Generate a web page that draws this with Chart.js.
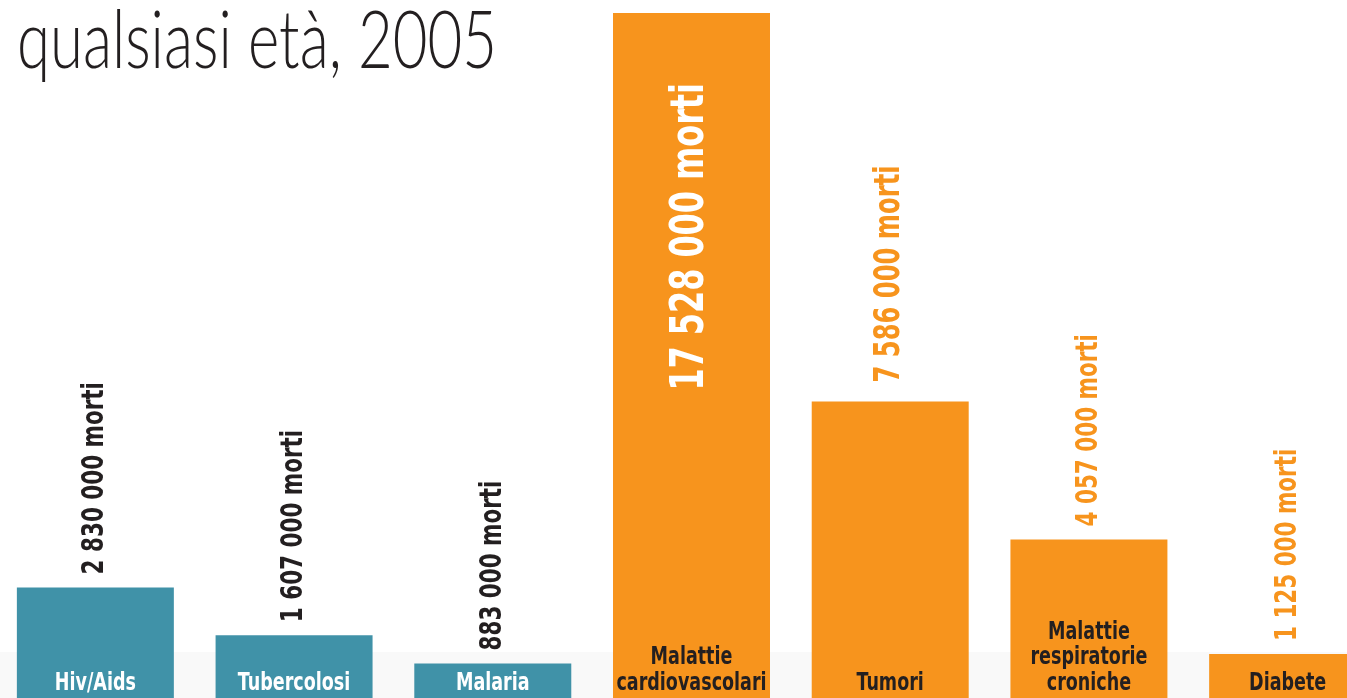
<!DOCTYPE html>
<html lang="it">
<head>
<meta charset="utf-8">
<title>Morti per causa, qualsiasi età, 2005</title>
<script src="https://cdn.jsdelivr.net/npm/chart.js@4/dist/chart.umd.min.js"></script>
<style>
    html, body {
        margin: 0;
        padding: 0;
        width: 1347px;
        height: 698px;
        overflow: hidden;
        background: linear-gradient(to bottom, #ffffff 0, #ffffff 652px, #f9f9f9 652px, #f9f9f9 698px);
    }
    #chartBox {
        position: absolute;
        left: -4px;
        top: 0;
        width: 1391px;
        height: 698px;
    }
    #title {
        position: absolute;
        left: 17px;
        top: -3px;
        font-family: Lato, Roboto, "Liberation Sans", sans-serif;
        font-weight: 300;
        font-size: 80px;
        line-height: 80px;
        color: #231f20;
        white-space: nowrap;
        transform-origin: 0 0;
        z-index: 2;
    }
</style>
</head>
<body>
<div id="chartBox"><canvas id="deathsChart"></canvas></div>
<div id="title">qualsiasi età, 2005</div>
<script>
// data
const categories = [
    ['Hiv/Aids'],
    ['Tubercolosi'],
    ['Malaria'],
    ['Malattie', 'cardiovascolari'],
    ['Tumori'],
    ['Malattie', 'respiratorie', 'croniche'],
    ['Diabete']
];
const deaths = [2830000, 1607000, 883000, 17528000, 7586000, 4057000, 1125000];
const yMax = 17528000;

// styles
const barColors = ['#4092a8', '#4092a8', '#4092a8', '#f7941d', '#f7941d', '#f7941d', '#f7941d'];
const valueColors = ['#231f20', '#231f20', '#231f20', '#ffffff', '#f7941d', '#f7941d', '#f7941d'];
const valueSizes = [31, 31, 31, 46, 35, 31, 31];
const valueInside = [false, false, false, true, false, false, false];
const catColors = ['#ffffff', '#ffffff', '#ffffff', '#231f20', '#231f20', '#231f20', '#231f20'];

// no narrow font installed, so squeeze a condensed one a bit more
const condensed = '"Liberation Sans Narrow", "DejaVu Sans Condensed", "Arial Narrow", sans-serif';
const valueSqueeze = 0.77;
const catSqueeze = 0.78;

function formatDeaths(n) {
    return String(n).replace(/\B(?=(\d{3})+(?!\d))/g, ' ') + ' morti';
}

// fit the title to the width it has in the original
const title = document.getElementById('title');
title.style.transform = 'scaleX(' + (480 / title.offsetWidth) + ')';

const barLabels = {
    id: 'barLabels',
    afterDatasetsDraw(chart) {
        const ctx = chart.ctx;
        const meta = chart.getDatasetMeta(0);
        meta.data.forEach((bar, i) => {
            // rotated value label
            ctx.save();
            ctx.font = 'bold ' + valueSizes[i] + 'px ' + condensed;
            ctx.fillStyle = valueColors[i];
            ctx.textBaseline = 'middle';
            if (valueInside[i]) {
                ctx.translate(bar.x, bar.y + 70);
                ctx.textAlign = 'right';
            } else {
                ctx.translate(bar.x, bar.y - (valueSizes[i] > 31 ? 19 : 13));
                ctx.textAlign = 'left';
            }
            ctx.rotate(-Math.PI / 2);
            ctx.scale(valueSqueeze, 1);
            ctx.fillText(formatDeaths(deaths[i]), 0, 0);
            ctx.restore();

            // category name at the foot of the bar
            ctx.save();
            ctx.font = 'bold 25px ' + condensed;
            ctx.fillStyle = catColors[i];
            ctx.textAlign = 'center';
            ctx.textBaseline = 'middle';
            const lines = categories[i];
            lines.forEach((line, j) => {
                const y = 683 - (lines.length - 1 - j) * 25.5;
                ctx.save();
                ctx.translate(bar.x, y);
                ctx.scale(catSqueeze, 1);
                ctx.fillText(line, 0, 0);
                ctx.restore();
            });
            ctx.restore();
        });
    }
};

new Chart(document.getElementById('deathsChart'), {
    type: 'bar',
    data: {
        labels: categories.map(c => c.join(' ')),
        datasets: [{
            data: deaths,
            backgroundColor: barColors,
            borderWidth: 0,
            categoryPercentage: 1,
            barPercentage: 0.79
        }]
    },
    options: {
        responsive: true,
        maintainAspectRatio: false,
        animation: false,
        layout: {
            padding: { top: 13, bottom: 0, left: 0, right: 0 }
        },
        plugins: {
            legend: { display: false },
            tooltip: { enabled: false }
        },
        scales: {
            x: { display: false },
            y: { display: false, min: 0, max: yMax }
        }
    },
    plugins: [barLabels]
});
</script>
</body>
</html>
